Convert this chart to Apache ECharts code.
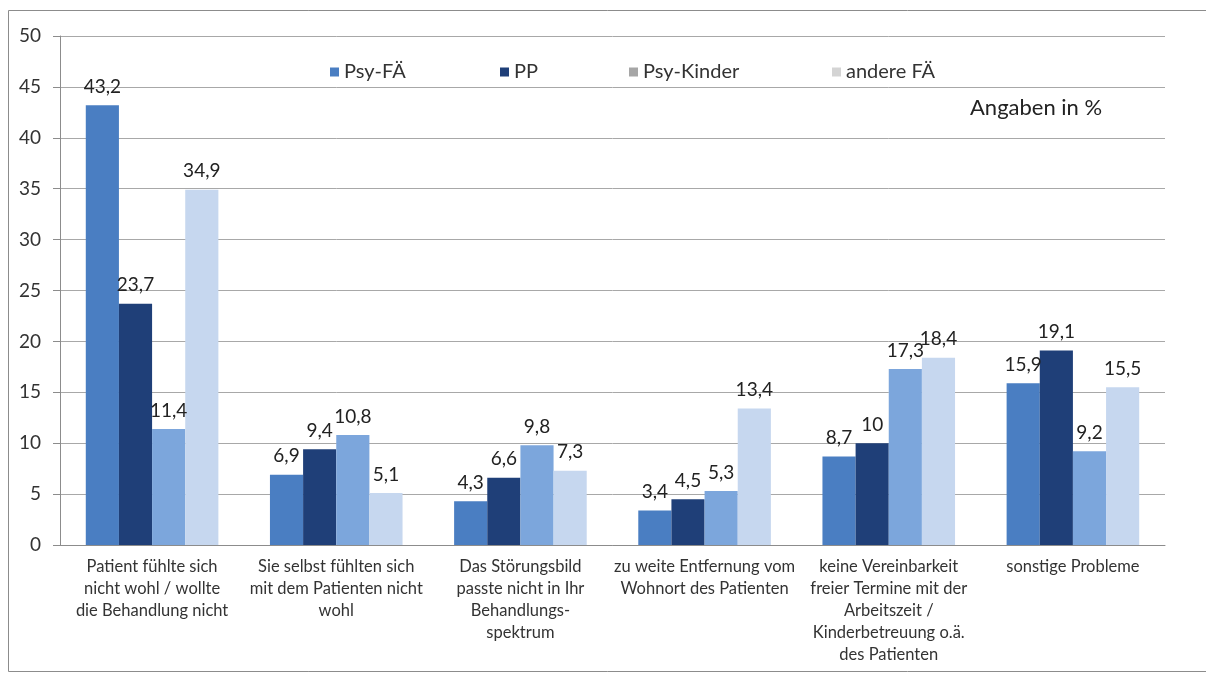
<!DOCTYPE html>
<html>
<head>
<meta charset="utf-8">
<script src="https://cdn.jsdelivr.net/npm/echarts@6/dist/echarts.min.js"></script>
<style>
  html, body { margin: 0; padding: 0; background: #fff; }
  #chart { width: 1206px; height: 673px; }
</style>
</head>
<body>
<div id="chart"></div>
<script>
// Reasons why treatment did not take place, by practitioner group (in %)
const categories = [
  'Patient fühlte sich\nnicht wohl / wollte\ndie Behandlung nicht',
  'Sie selbst fühlten sich\nmit dem Patienten nicht\nwohl',
  'Das Störungsbild\npasste nicht in Ihr\nBehandlungs-\nspektrum',
  'zu weite Entfernung vom\nWohnort des Patienten',
  'keine Vereinbarkeit\nfreier Termine mit der\nArbeitszeit /\nKinderbetreuung o.ä.\ndes Patienten',
  'sonstige Probleme'
];
const seriesNames = ['Psy-FÄ', 'PP', 'Psy-Kinder', 'andere FÄ'];
const psyFA = [43.2, 6.9, 4.3, 3.4, 8.7, 15.9];
const pp = [23.7, 9.4, 6.6, 4.5, 10, 19.1];
const psyKinder = [11.4, 10.8, 9.8, 5.3, 17.3, 9.2];
const andereFA = [34.9, 5.1, 7.3, 13.4, 18.4, 15.5];
const yTicks = [0, 5, 10, 15, 20, 25, 30, 35, 40, 45, 50];

const barColors = ['#4a7ec2', '#1f3f78', '#7ca6dc', '#c6d7ef'];
const legendIconColors = ['#4a7ec2', '#1f3f78', '#a6a6a6', '#d4d4d4'];
const font = 'Lato, "Open Sans", sans-serif';

const values = [psyFA, pp, psyKinder, andereFA];
const fmt = v => String(v).replace('.', ',');

// one legend block per series so each entry sits at its own spot
const legendX = [325, 495, 624, 827];
const legends = seriesNames.map((name, i) => ({
  left: legendX[i], top: 57,
  itemWidth: 9, itemHeight: 9, icon: 'rect',
  textStyle: { fontFamily: font, fontSize: 20, color: '#333' },
  data: [{ name, itemStyle: { color: legendIconColors[i] } }]
}));

const chart = echarts.init(document.getElementById('chart'), null, { renderer: 'canvas' });
chart.setOption({
  animation: false,
  backgroundColor: '#fff',
  textStyle: { fontFamily: font },
  legend: legends,
  grid: { left: 60, right: 41, top: 36, bottom: 128 },
  graphic: [
    { type: 'rect', shape: { x: 8.5, y: 10.5, width: 1200, height: 661 },
      style: { fill: 'none', stroke: '#8c8c8c', lineWidth: 1 }, silent: true },
    { type: 'text', left: 970, top: 97,
      style: { text: 'Angaben in %', font: '22px ' + font, fill: '#222' } }
  ],
  xAxis: {
    type: 'category',
    data: categories,
    axisLine: { lineStyle: { color: '#8c8c8c' } },
    axisTick: { length: 6, lineStyle: { color: '#8c8c8c' } },
    axisLabel: { interval: 0, fontSize: 16.5, lineHeight: 22, color: '#333', margin: 11, fontFamily: font }
  },
  yAxis: {
    type: 'value', min: yTicks[0], max: yTicks[yTicks.length - 1], interval: 5,
    axisLine: { show: true, lineStyle: { color: '#8c8c8c' } },
    axisTick: { show: true, length: 7, inside: false, lineStyle: { color: '#8c8c8c' } },
    splitLine: { lineStyle: { color: '#a8a8a8' } },
    axisLabel: { fontSize: 19, color: '#333', margin: 19, fontFamily: font }
  },
  series: seriesNames.map((name, i) => ({
    name, type: 'bar',
    data: values[i],
    barGap: '0%', barCategoryGap: '28%',
    itemStyle: { color: barColors[i] },
    label: {
      show: true, position: 'top', distance: 9,
      fontSize: 19, color: '#222', fontFamily: font,
      formatter: p => fmt(p.value)
    }
  }))
});
</script>
</body>
</html>
